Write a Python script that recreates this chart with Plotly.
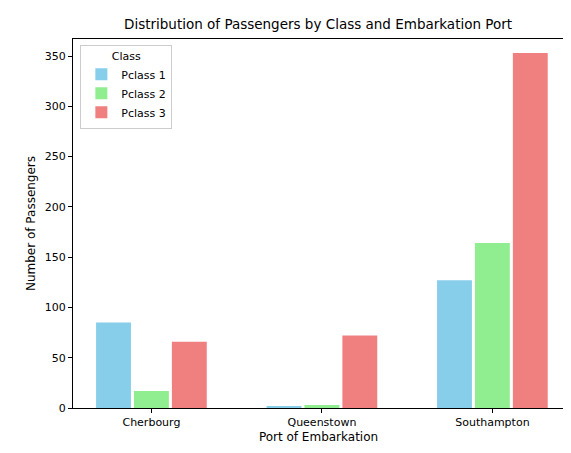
import plotly.graph_objects as go

ports = ["Cherbourg", "Queenstown", "Southampton"]
pclass1 = [85, 2, 127]
pclass2 = [17, 3, 164]
pclass3 = [66, 72, 353]

series = [("Pclass 1", pclass1, "skyblue"),
          ("Pclass 2", pclass2, "lightgreen"),
          ("Pclass 3", pclass3, "lightcoral")]

fig = go.Figure()
for name, vals, col in series:
    fig.add_trace(go.Bar(x=list(range(len(ports))), y=vals, name=name,
                         marker=dict(color=col, line=dict(width=0))))

axis_common = dict(showline=True, linecolor="black", mirror=True, ticks="outside",
                   ticklen=4, tickcolor="black", showgrid=False, zeroline=False,
                   automargin=False, tickfont=dict(size=11, color="black"))

fig.update_layout(
    width=571, height=453,
    barmode="group", bargap=0.333, bargroupgap=0.08,
    plot_bgcolor="white", paper_bgcolor="white",
    font=dict(family="DejaVu Sans", color="black"),
    margin=dict(l=65, r=15, t=31, b=53, autoexpand=False),
    title=dict(text="Distribution of Passengers by Class and Embarkation Port",
               x=0.543, xanchor="center", y=0.965, yanchor="middle",
               font=dict(size=13.5)),
    xaxis=dict(tickvals=[0, 1, 2], ticktext=ports, range=[-0.46, 2.42],
               title=dict(text="Port of Embarkation", font=dict(size=12), standoff=4),
               **axis_common),
    yaxis=dict(range=[0, 367], tickvals=[0, 50, 100, 150, 200, 250, 300, 350],
               title=dict(text="Number of Passengers", font=dict(size=12), standoff=6),
               **axis_common),
    legend=dict(x=0.015, y=0.985, xanchor="left", yanchor="top",
                bgcolor="rgba(255,255,255,0.8)", bordercolor="#cccccc", borderwidth=1,
                title=dict(text="Class", side="top center", font=dict(size=11)),
                font=dict(size=11)),
)

fig.write_html("out.html")
